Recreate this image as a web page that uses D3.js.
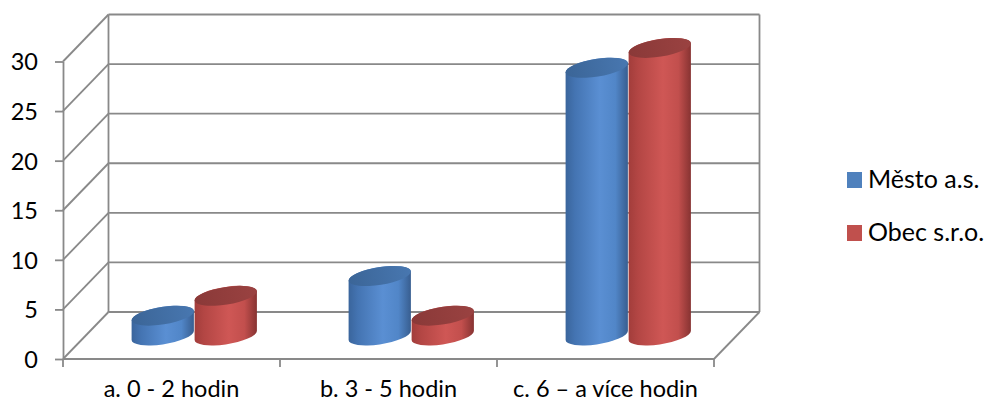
<!DOCTYPE html>
<html>
<head>
<meta charset="utf-8">
<script src="https://cdn.jsdelivr.net/npm/d3@7"></script>
<style>
  html, body { margin: 0; padding: 0; background: #fff; }
  svg { display: block; }
  text { font-family: Lato, "Open Sans", sans-serif; fill: #000; }
</style>
</head>
<body>
<svg id="chart" width="986" height="403"></svg>
<script>
// Chart data
const categories = ["a. 0 - 2 hodin", "b. 3 - 5 hodin", "c. 6 – a více hodin"];
const seriesNames = ["Město a.s.", "Obec s.r.o."];
const mestoValues = [2, 6, 27];
const obecValues = [4, 2, 29];
const yTickValues = [0, 5, 10, 15, 20, 25, 30];

const seriesValues = [mestoValues, obecValues];
const palette = {
  "Město a.s.": { legend: "#4F81BD", top: ["#3B6597", "#4877B0"],
    side: ["#3A659C", "#4474B2", "#5A8FD3", "#5186C8", "#385E90"] },
  "Obec s.r.o.": { legend: "#C0504D", top: ["#8A3938", "#9A4241"],
    side: ["#A23D3B", "#B34644", "#CF5755", "#C24F4D", "#873332"] }
};

const svg = d3.select("#chart");
const axisFont = 23.5;
const legendFont = 25;

// Oblique 3D frame: front plane plus a receding depth offset
const front = { left: 63, right: 714, bottom: 359, top: 61.5 };
const depth = { dx: 45.5, dy: -47 };

const y = d3.scaleLinear().domain([0, 30]).range([front.bottom, front.top]);
const x = d3.scaleBand().domain(categories).range([front.left, front.right]);
const xs = d3.scaleBand().domain(seriesNames).range([0, x.bandwidth()])
  .paddingInner(0).paddingOuter(0.722);

const gridColor = "#898989";
const gridWidth = 1.8;

const frame = svg.append("g").attr("fill", "none")
  .attr("stroke", gridColor).attr("stroke-width", gridWidth);

// back wall gridlines
frame.selectAll("line.back").data(yTickValues).join("line")
  .attr("x1", front.left + depth.dx).attr("x2", front.right + depth.dx)
  .attr("y1", d => y(d) + depth.dy).attr("y2", d => y(d) + depth.dy);

// side wall diagonals
frame.selectAll("line.side").data(yTickValues).join("line")
  .attr("x1", front.left).attr("y1", d => y(d))
  .attr("x2", front.left + depth.dx).attr("y2", d => y(d) + depth.dy);

// back wall verticals
[front.left + depth.dx, front.right + depth.dx].forEach(xx => {
  frame.append("line").attr("x1", xx).attr("x2", xx)
    .attr("y1", y(0) + depth.dy).attr("y2", y(30) + depth.dy);
});

// floor: front edge and right diagonal
frame.append("line").attr("x1", front.left).attr("x2", front.right)
  .attr("y1", y(0)).attr("y2", y(0));
frame.append("line").attr("x1", front.right).attr("y1", y(0))
  .attr("x2", front.right + depth.dx).attr("y2", y(0) + depth.dy);

// value axis on the front left edge
const yAxis = d3.axisLeft(y).tickValues(yTickValues).tickSize(8)
  .tickSizeOuter(0).tickPadding(17);
const yAxisG = svg.append("g").attr("transform", `translate(${front.left},0)`).call(yAxis);
yAxisG.select(".domain").attr("stroke", gridColor).attr("stroke-width", gridWidth);
yAxisG.selectAll(".tick line").attr("stroke", gridColor).attr("stroke-width", gridWidth);
yAxisG.selectAll(".tick text").attr("font-size", axisFont)
  .attr("font-family", "Lato, 'Open Sans', sans-serif").attr("fill", "#000")
  .attr("dy", "0.36em");

// category axis: ticks at band boundaries, labels at band centres
const boundaries = categories.map(c => x(c)).concat([front.right]);
svg.append("g").selectAll("line").data(boundaries).join("line")
  .attr("x1", d => d).attr("x2", d => d)
  .attr("y1", y(0)).attr("y2", y(0) + 8)
  .attr("stroke", gridColor).attr("stroke-width", gridWidth);
svg.append("g").selectAll("text").data(categories).join("text")
  .attr("x", d => x(d) + x.bandwidth() / 2)
  .attr("y", 397)
  .attr("text-anchor", "middle")
  .attr("font-size", axisFont)
  .text(d => d);

// gradients
const defs = svg.append("defs");
seriesNames.forEach((s, i) => {
  const p = palette[s];
  const g = defs.append("linearGradient").attr("id", "side" + i)
    .attr("x1", "0").attr("x2", "1").attr("y1", "0").attr("y2", "0");
  [0, 0.15, 0.55, 0.8, 1].forEach((o, k) =>
    g.append("stop").attr("offset", o).attr("stop-color", p.side[k]));
  const t = defs.append("linearGradient").attr("id", "top" + i)
    .attr("x1", "0").attr("x2", "1").attr("y1", "0").attr("y2", "0");
  t.append("stop").attr("offset", 0).attr("stop-color", p.top[0]);
  t.append("stop").attr("offset", 1).attr("stop-color", p.top[1]);
});

// cylinders
const rx = xs.bandwidth() / 2;
const ry = 8.8;
const tilt = -9 * Math.PI / 180;
const cosT = Math.cos(tilt), sinT = Math.sin(tilt);
const t0 = Math.atan2(-ry * sinT, rx * cosT);
function ellPoint(cx, cy, t) {
  return [cx + rx * Math.cos(t) * cosT - ry * Math.sin(t) * sinT,
          cy + rx * Math.cos(t) * sinT + ry * Math.sin(t) * cosT];
}
const rotDeg = tilt * 180 / Math.PI;

const bars = [];
categories.forEach((c, ci) => {
  seriesNames.forEach((s, si) => {
    bars.push({ cat: c, series: s, si, value: seriesValues[si][ci] });
  });
});

const cyl = svg.append("g").selectAll("g").data(bars).join("g");
cyl.each(function(d) {
  const g = d3.select(this);
  const cx = x(d.cat) + xs(d.series) + rx + depth.dx / 2;
  const yb = y(0) + depth.dy / 2;
  const yt = y(d.value) + depth.dy / 2;
  const Rt = ellPoint(cx, yt, t0), Lt = ellPoint(cx, yt, t0 + Math.PI);
  const Rb = ellPoint(cx, yb, t0), Lb = ellPoint(cx, yb, t0 + Math.PI);
  const path = `M${Lt[0]},${Lt[1]} L${Lb[0]},${Lb[1]} ` +
    `A${rx},${ry} ${rotDeg} 0 0 ${Rb[0]},${Rb[1]} ` +
    `L${Rt[0]},${Rt[1]} ` +
    `A${rx},${ry} ${rotDeg} 0 0 ${Lt[0]},${Lt[1]} Z`;
  g.append("path").attr("d", path).attr("fill", `url(#side${d.si})`);
  g.append("ellipse").attr("cx", 0).attr("cy", 0).attr("rx", rx).attr("ry", ry)
    .attr("transform", `translate(${cx},${yt}) rotate(${rotDeg})`)
    .attr("fill", `url(#top${d.si})`);
});

// legend
const legend = svg.append("g").selectAll("g").data(seriesNames).join("g")
  .attr("transform", (d, i) => `translate(847,${172 + i * 53})`);
legend.append("rect").attr("width", 15).attr("height", 16)
  .attr("fill", d => palette[d].legend);
legend.append("text").attr("x", 21).attr("y", 16)
  .attr("font-size", legendFont).text(d => d);
</script>
</body>
</html>
